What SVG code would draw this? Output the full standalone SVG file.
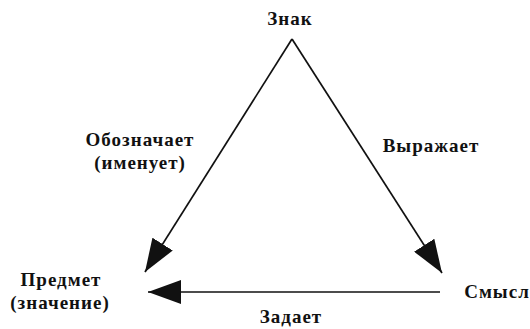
<svg xmlns="http://www.w3.org/2000/svg" width="530" height="329" viewBox="0 0 530 329">
<style>
text{font-family:"Liberation Serif","DejaVu Serif",serif;font-weight:bold;font-size:19px;letter-spacing:1px;fill:#111;text-anchor:middle}
.c{stroke:#111;stroke-width:1.7;fill:none}
</style>
<defs>
<marker id="ah" viewBox="0 0 33 24" refX="33" refY="12" markerWidth="33" markerHeight="24" markerUnits="userSpaceOnUse" orient="auto">
<path d="M0,0 L33,12 L0,24 Z" fill="#111"/>
</marker>
</defs>
<rect width="530" height="329" fill="#fff"/>
<g id="connectors">
<line class="c" x1="292" y1="39" x2="145" y2="272" marker-end="url(#ah)"/>
<line class="c" x1="292" y1="39" x2="442" y2="273" marker-end="url(#ah)"/>
<line class="c" x1="440" y1="292" x2="148" y2="292" marker-end="url(#ah)"/>
</g>
<g id="znak"><text x="290" y="25">Знак</text></g>
<g id="predmet"><text x="61" y="286">Предмет</text><text x="60" y="309">(значение)</text></g>
<g id="smysl"><text x="497" y="298">Смысл</text></g>
<g id="label-oboznachaet"><text x="140" y="146">Обозначает</text><text x="140" y="169">(именует)</text></g>
<g id="label-vyrazhaet"><text x="431" y="152">Выражает</text></g>
<g id="label-zadaet"><text x="291" y="323">Задает</text></g>
</svg>
